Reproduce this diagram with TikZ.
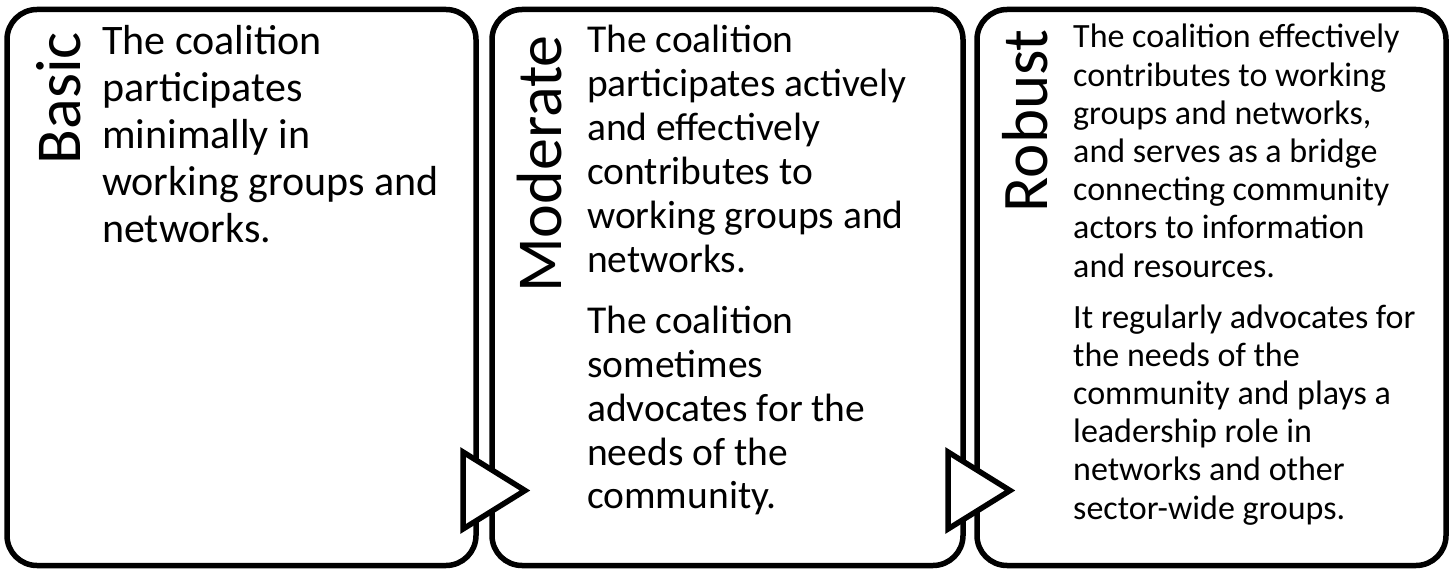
\documentclass[tikz,border=0pt]{standalone}
\usepackage{fontspec}
\setmainfont{Carlito}
\tikzset{
  stage/.style={draw=black, line width=5.5pt, rounded corners=30pt, fill=white},
  nextarrow/.style={draw=black, line width=5.5pt, fill=white, line join=miter},
  title/.style={rotate=90, anchor=base east, inner sep=0pt, font=\fontsize{64}{70}\selectfont},
  body/.style={anchor=base west, inner sep=0pt},
}
\begin{document}
\begin{tikzpicture}[x=1pt, y=-1pt]
\useasboundingbox (0,0) rectangle (1453,569);
% stage boxes
\draw[stage] (7,9.5) rectangle (476,565.5);
\draw[stage] (492,9.5) rectangle (963,565.5);
\draw[stage] (977,9.5) rectangle (1446,565.5);
\coordinate (b1) at (241.5,287.5);
\coordinate (b2) at (727.5,287.5);
\coordinate (b3) at (1211.5,287.5);
% arrows between stages
\draw[nextarrow] (463,452) -- (463,529) -- (525,490.5) -- cycle;
\draw[nextarrow] (948,452) -- (948,529) -- (1010,490.5) -- cycle;
% titles
\node[title] (tBasic) at (80,32) {Basic};
\node[title] (tModerate) at (561,35) {Moderate};
\node[title, font=\fontsize{65}{70}\selectfont] (tRobust) at (1047,29) {Robust};
% body texts
\node[body] (x1) at (102,55) {\fontsize{42}{46.8}\selectfont\vtop{%
  \hbox{The coalition}\hbox{participates}\hbox{minimally in}%
  \hbox{working groups and}\hbox{networks.}}};
\node[body] (x2) at (587,53) {\fontsize{39.5}{43.9}\selectfont\vtop{%
  \hbox{The coalition}\hbox{participates actively}\hbox{and effectively}%
  \hbox{contributes to}\hbox{working groups and}\hbox{networks.}%
  \vskip 17pt
  \hbox{The coalition}\hbox{sometimes}\hbox{advocates for the}%
  \hbox{needs of the}\hbox{community.}}};
\node[body] (x3) at (1073,48) {\fontsize{34}{38.2}\selectfont\vtop{%
  \hbox{The coalition effectively}\hbox{contributes to working}%
  \hbox{groups and networks,}\hbox{and serves as a bridge}%
  \hbox{connecting community}\hbox{actors to information}%
  \hbox{and resources.}%
  \vskip 12.7pt
  \hbox{It regularly advocates for}\hbox{the needs of the}%
  \hbox{community and plays a}\hbox{leadership role in}%
  \hbox{networks and other}\hbox{sector-wide groups.}}};
\end{tikzpicture}
\end{document}
